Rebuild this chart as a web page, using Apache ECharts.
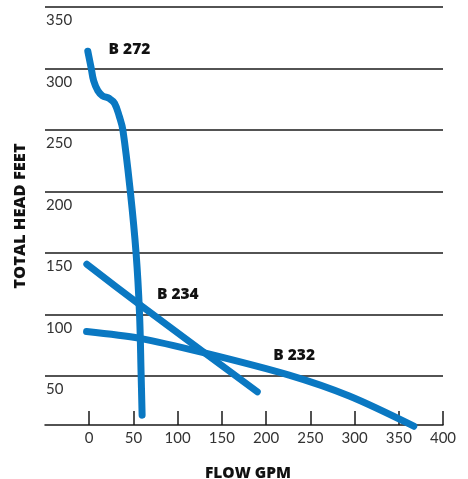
<!DOCTYPE html>
<html>
<head>
<meta charset="utf-8">
<script src="https://cdn.jsdelivr.net/npm/echarts@6/dist/echarts.min.js"></script>
<style>
  html, body { margin: 0; padding: 0; background: #fff; }
  #chart { width: 468px; height: 479px; }
</style>
</head>
<body>
<div id="chart"></div>
<script>
// pump curves: [flow gpm, head feet]
const b272 = [[-1.6, 314], [2.3, 300], [5, 290], [9.7, 282], [15, 277.8], [22.9, 275.5], [28.6, 271.7], [34.2, 260.6], [38.1, 249.7], [46.6, 199], [53, 149.6], [56.8, 101.7], [58.7, 50.5], [59.8, 18]]
const b234 = [[-2.7, 140.8], [55, 109], [128, 70], [190, 37]]
const b232 = [[-3, 86], [57, 80.5], [128, 69], [226, 50.5], [294, 33.5], [367, 9]]

const seriesNames = ['B 272', 'B 234', 'B 232']
const labelSpots = [[45.5, 315.5], [100.2, 115.8], [231.7, 66.8]]

const xTicks = [0, 50, 100, 150, 200, 250, 300, 350, 400]
const yTicks = [50, 100, 150, 200, 250, 300, 350]

const blue = '#0a78c2'
const ink = '#1a1a1a'

const chart = echarts.init(document.getElementById('chart'))

function curve(name, data, spot, smooth) {
  return {
    name: name,
    type: 'line',
    data: data,
    smooth: smooth,
    symbol: 'none',
    clip: false,
    lineStyle: { color: blue, width: 7, cap: 'round', join: 'round' },
    markPoint: {
      symbol: 'circle',
      symbolSize: 1,
      itemStyle: { color: 'rgba(0,0,0,0)' },
      data: [{ name: name, coord: spot }],
      label: {
        show: true,
        position: 'inside',
        formatter: name,
        color: '#111',
        fontFamily: 'Open Sans',
        fontWeight: 800,
        fontSize: 15.5,
      },
    },
  }
}

chart.setOption({
  animation: false,
  grid: { left: 45, right: 25, top: 7, bottom: 54, outerBoundsMode: 'none' },
  xAxis: {
    type: 'value',
    min: -50,
    max: 400,
    interval: 50,
    name: 'FLOW GPM',
    nameLocation: 'middle',
    nameGap: 41,
    nameTextStyle: { color: '#111', fontFamily: 'Open Sans', fontWeight: 800, fontSize: 15.5, padding: [0, 0, 0, 8] },
    axisLine: { show: true, lineStyle: { color: ink, width: 1.5 } },
    axisTick: { show: true, inside: true, length: 14, customValues: xTicks, lineStyle: { color: ink, width: 1.5 } },
    axisLabel: { customValues: xTicks, margin: 6, color: '#333', fontFamily: 'Lato', fontSize: 15 },
    splitLine: { show: false },
  },
  yAxis: {
    type: 'value',
    min: 10,
    max: 350,
    name: 'TOTAL HEAD FEET',
    nameLocation: 'middle',
    nameGap: 16,
    nameRotate: 90,
    nameTextStyle: { color: '#111', fontFamily: 'Open Sans', fontWeight: 800, fontSize: 16.5 },
    axisLine: { show: false },
    axisTick: { show: false, customValues: yTicks },
    axisLabel: {
      customValues: yTicks,
      inside: true,
      margin: 1,
      verticalAlign: 'top',
      padding: [6, 0, 0, 0],
      color: '#333',
      fontFamily: 'Lato',
      fontSize: 15,
    },
    splitLine: { show: true, lineStyle: { color: ink, width: 1.5 } },
  },
  series: [
    curve(seriesNames[0], b272, labelSpots[0], 0.4),
    curve(seriesNames[1], b234, labelSpots[1], 0.3),
    curve(seriesNames[2], b232, labelSpots[2], 0.3),
  ],
})
</script>
</body>
</html>
